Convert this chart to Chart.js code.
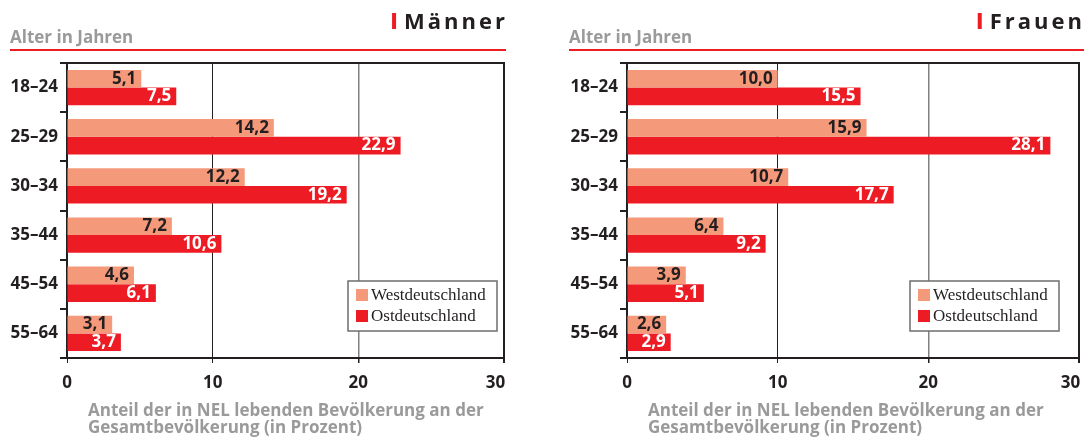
<!DOCTYPE html>
<html>
<head>
<meta charset="utf-8">
<script src="https://cdn.jsdelivr.net/npm/chart.js@4.4.1/dist/chart.umd.min.js"></script>
<style>
  html, body { margin: 0; padding: 0; background: #fff; overflow: hidden; }
  body { width: 1084px; height: 437px; position: relative; }
  canvas { position: absolute; top: 0; }
  #maenner { left: 0; }
  #frauen { left: 540px; }
</style>
</head>
<body>
<canvas id="maenner" width="540" height="437"></canvas>
<canvas id="frauen" width="620" height="437"></canvas>
<script>
// Daten
const altersgruppen = ['18–24', '25–29', '30–34', '35–44', '45–54', '55–64'];
const maennerWest = [5.1, 14.2, 12.2, 7.2, 4.6, 3.1];
const maennerOst = [7.5, 22.9, 19.2, 10.6, 6.1, 3.7];
const frauenWest = [10.0, 15.9, 10.7, 6.4, 3.9, 2.6];
const frauenOst = [15.5, 28.1, 17.7, 9.2, 5.1, 2.9];
const xTicks = [0, 10, 20, 30];
const serien = ['Westdeutschland', 'Ostdeutschland'];

const ROT = '#ed1c24';
const LACHS = '#f4997a';
const DUNKEL = '#231f20';
const GRAU = '#9a9a9b';
const SANS = '"Open Sans", "DejaVu Sans", sans-serif';

const deko = {
  id: 'deko',
  afterDraw(chart, args, o) {
    const ctx = chart.ctx;
    const a = chart.chartArea;
    ctx.save();

    // Kopfzeile
    ctx.fillStyle = GRAU;
    ctx.font = 'bold 17px ' + SANS;
    ctx.textAlign = 'left';
    ctx.textBaseline = 'alphabetic';
    ctx.fillText('Alter in Jahren', o.headX, 43);
    ctx.fillStyle = ROT;
    ctx.fillRect(o.headX, 49, o.lineEnd - o.headX, 2);

    ctx.font = 'bold 22px ' + SANS;
    ctx.letterSpacing = '3px';
    const w = ctx.measureText(o.titel).width;
    const tx = o.titelRight - w + 3;
    ctx.fillStyle = DUNKEL;
    ctx.fillText(o.titel, tx, 29);
    ctx.letterSpacing = '0px';
    ctx.fillStyle = ROT;
    ctx.fillRect(tx - 12, 13, 4, 16);

    // Rahmen oben und rechts
    ctx.strokeStyle = DUNKEL;
    ctx.lineWidth = 2;
    ctx.beginPath();
    ctx.moveTo(a.left, a.top);
    ctx.lineTo(a.right, a.top);
    ctx.lineTo(a.right, a.bottom);
    ctx.stroke();

    // Werte in den Balken
    ctx.font = 'bold 17px ' + SANS;
    ctx.textAlign = 'right';
    ctx.textBaseline = 'middle';
    chart.data.datasets.forEach((ds, i) => {
      const meta = chart.getDatasetMeta(i);
      ctx.fillStyle = i === 0 ? DUNKEL : '#ffffff';
      meta.data.forEach((bar, j) => {
        const txt = ds.data[j].toFixed(1).replace('.', ',');
        ctx.fillText(txt, bar.x - 5, bar.y);
      });
    });

    // Legende
    const lx = a.left + o.legX, ly = o.legY;
    ctx.fillStyle = '#ffffff';
    ctx.fillRect(lx, ly, 149, 50);
    ctx.strokeStyle = '#6d6e70';
    ctx.lineWidth = 1.5;
    ctx.strokeRect(lx, ly, 149, 50);
    ctx.font = '17px "Liberation Serif", "DejaVu Serif", serif';
    ctx.textAlign = 'left';
    chart.data.datasets.forEach((ds, i) => {
      ctx.fillStyle = ds.backgroundColor;
      ctx.fillRect(lx + 8, ly + 8 + i * 21, 12, 12);
      ctx.fillStyle = DUNKEL;
      ctx.fillText(ds.label, lx + 23, ly + 15 + i * 21);
    });

    // Achsentitel
    ctx.fillStyle = GRAU;
    ctx.font = 'bold 17px ' + SANS;
    ctx.textBaseline = 'alphabetic';
    ctx.fillText('Anteil der in NEL lebenden Bevölkerung an der', a.left + 21, 416);
    ctx.fillText('Gesamtbevölkerung (in Prozent)', a.left + 21, 433);
    ctx.restore();
  }
};

function baueChart(id, west, ost, cfg) {
  return new Chart(document.getElementById(id), {
    type: 'bar',
    data: {
      labels: altersgruppen,
      datasets: [
        { label: serien[0], data: west, backgroundColor: LACHS },
        { label: serien[1], data: ost, backgroundColor: ROT }
      ]
    },
    options: {
      indexAxis: 'y',
      responsive: false,
      animation: false,
      devicePixelRatio: 1,
      categoryPercentage: 0.72,
      barPercentage: 1.0,
      layout: { padding: { top: 63, right: cfg.padRight, bottom: 0, left: 0 } },
      scales: {
        x: {
          min: 0,
          max: 30,
          afterBuildTicks: (s) => { s.ticks = xTicks.map(v => ({ value: v })); },
          afterFit: (s) => { s.height = 79; },
          border: { color: DUNKEL, width: 2 },
          grid: {
            tickLength: 5,
            tickColor: DUNKEL,
            color: (c) => c.tick.value === 20 ? '#808080' : (c.tick.value === 0 ? 'rgba(0,0,0,0)' : DUNKEL),
            lineWidth: (c) => c.tick.value === 20 ? 1.5 : (c.tick.value === 30 ? 2 : 1)
          },
          ticks: {
            color: DUNKEL,
            font: { family: SANS, size: 17, weight: 'bold' },
            padding: 10,
            callback: (v) => v === 30 ? '30\u2003' : String(v)
          }
        },
        y: {
          z: 1,
          afterFit: (s) => { s.width = cfg.yWidth; },
          border: { color: DUNKEL, width: 2 },
          grid: { drawOnChartArea: false, tickLength: 7, lineWidth: 2, color: DUNKEL, offset: true },
          ticks: { color: DUNKEL, font: { family: SANS, size: 17, weight: 'bold' }, padding: 2 }
        }
      },
      plugins: {
        legend: { display: false },
        tooltip: { enabled: false },
        deko: cfg
      }
    },
    plugins: [deko]
  });
}

baueChart('maenner', maennerWest, maennerOst, {
  padRight: 36, yWidth: 67, headX: 10, lineEnd: 506, titel: 'Männer', titelRight: 505, legX: 281, legY: 281
});
baueChart('frauen', frauenWest, frauenOst, {
  padRight: 81, yWidth: 87, headX: 29, lineEnd: 544, titel: 'Frauen', titelRight: 542, legX: 283, legY: 281
});
</script>
</body>
</html>
